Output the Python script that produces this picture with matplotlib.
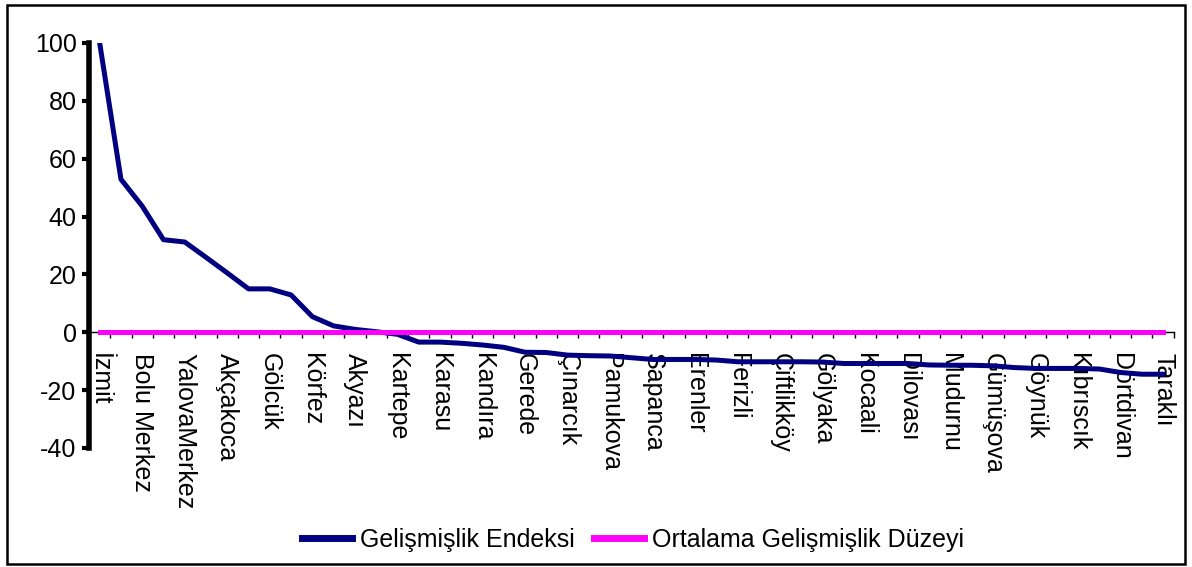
import matplotlib

matplotlib.use("Agg")

import matplotlib.pyplot as plt
import numpy as np
from matplotlib.patches import Rectangle

plt.rcParams["font.family"] = ["Liberation Sans", "DejaVu Sans"]
plt.rcParams["axes.unicode_minus"] = False

# every other district carries a label in the source chart
labeled_districts = [
    "İzmit", "Bolu Merkez", "YalovaMerkez", "Akçakoca", "Gölcük", "Körfez",
    "Akyazı", "Kartepe", "Karasu", "Kandıra", "Gerede", "Çınarcık",
    "Pamukova", "Sapanca", "Erenler", "Ferizli", "Çiftlikköy", "Gölyaka",
    "Kocaali", "Dilovası", "Mudurnu", "Gümüşova", "Göynük", "Kıbrıscık",
    "Dörtdivan", "Taraklı",
]

development_index = [
    100.0, 52.9, 43.6, 32.0, 31.2, 25.9, 20.5, 15.0, 15.0, 12.9,
    5.4, 2.2, 1.0, 0.2, -0.7, -3.4, -3.4, -3.8, -4.4, -5.2,
    -6.9, -7.0, -7.9, -8.1, -8.2, -8.8, -9.4, -9.4, -9.4, -9.6,
    -10.2, -10.2, -10.2, -10.2, -10.3, -10.8, -10.8, -10.8, -10.8, -11.3,
    -11.4, -11.4, -11.6, -12.2, -12.5, -12.5, -12.5, -12.7, -13.9, -14.5,
    -14.5,
]

mean_level = 0.0

y_ticks = [-40, -20, 0, 20, 40, 60, 80, 100]

n = len(development_index)
x = np.arange(n)

fig = plt.figure(figsize=(11.92, 5.67), dpi=100)
ax = fig.add_axes([0.0747, 0.2099, 0.910, 0.7143])

ax.plot(x, development_index, color="#000080", linewidth=3.6,
        label="Gelişmişlik Endeksi")
ax.plot(x, [mean_level] * n, color="#FF00FF", linewidth=3.6, zorder=3,
        label="Ortalama Gelişmişlik Düzeyi")

ax.set_xlim(-0.5, n - 0.5)
ax.set_ylim(-40, 100)
ax.set_yticks(y_ticks)
ax.set_yticklabels([str(v) for v in y_ticks])

ax.spines["top"].set_visible(False)
ax.spines["right"].set_visible(False)
ax.spines["left"].set_linewidth(4)
ax.spines["bottom"].set_position(("data", 0))
ax.spines["bottom"].set_linewidth(1)

ax.set_xticks(x[::2])
ax.set_xticklabels(labeled_districts, rotation=270, ha="center", va="top")
ax.set_xticks(np.arange(-0.5, n, 1), minor=True)
ax.tick_params(axis="x", which="major", length=0, pad=15, labelsize=18)
ax.tick_params(axis="x", which="minor", length=4.5, width=1, direction="out")
ax.tick_params(axis="y", length=5, width=3, pad=4, labelsize=18)

leg = ax.legend(loc="center", bbox_to_anchor=(0.531, 0.048),
                bbox_transform=fig.transFigure, ncol=2, frameon=False,
                fontsize=18, handlelength=2.0, handletextpad=0.3,
                columnspacing=0.8)
for handle in leg.get_lines():
    handle.set_linewidth(5)

fig.patches.append(Rectangle((0.0059, 0.0053), 0.9882, 0.9859,
                             transform=fig.transFigure, fill=False,
                             edgecolor="black", linewidth=1.8))

fig.savefig("out.png", dpi=100)
